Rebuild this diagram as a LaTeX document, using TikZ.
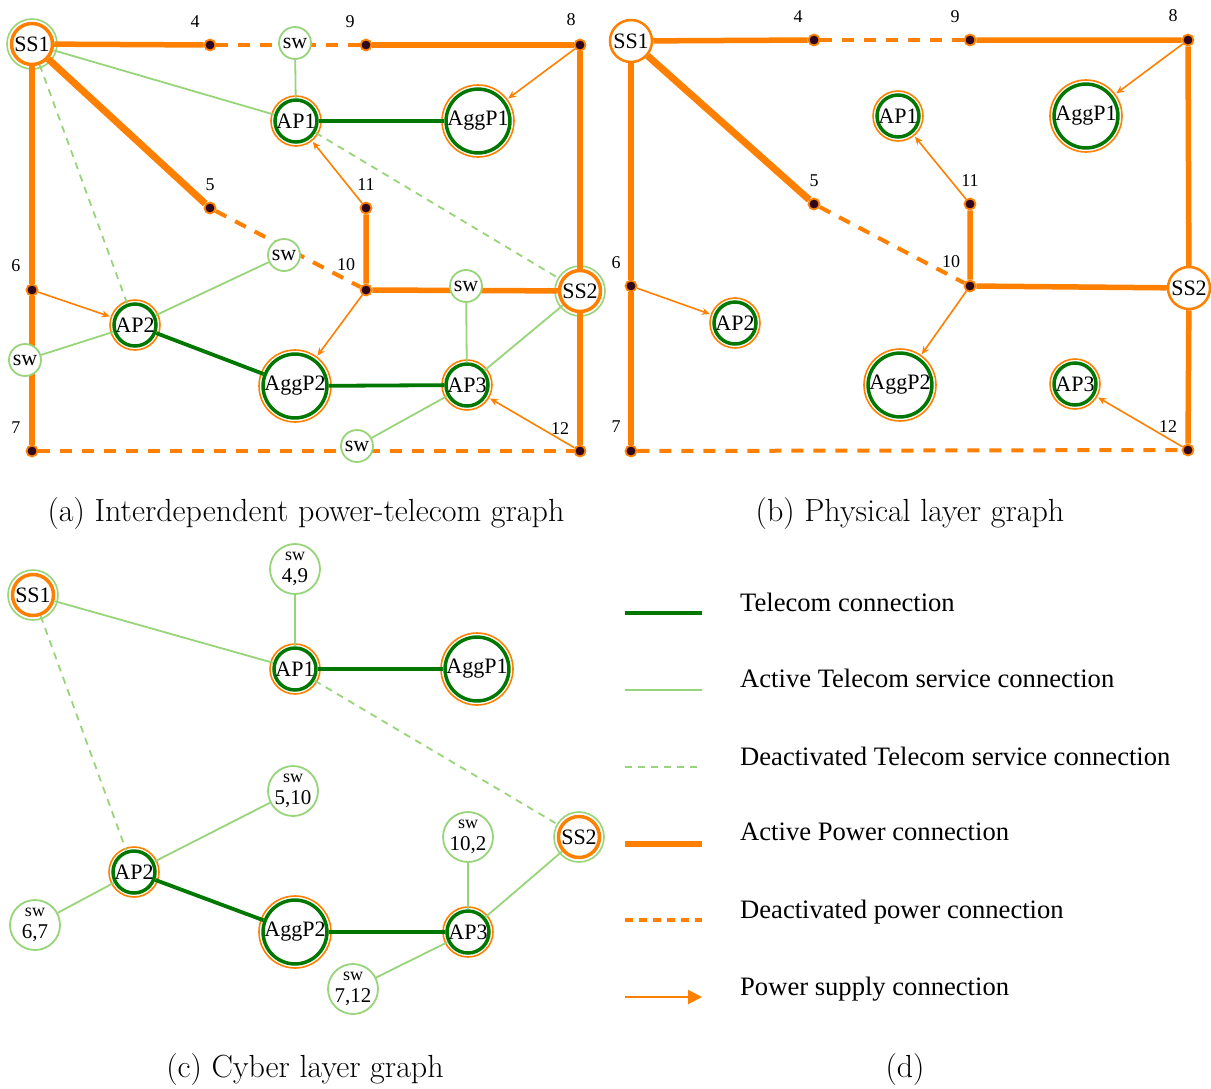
\documentclass[tikz,border=0pt]{standalone}
\usepackage{fontspec}
\newfontfamily\tnr{Liberation Serif}
\usetikzlibrary{arrows.meta}

\definecolor{pwr}{RGB}{255,128,0}
\definecolor{tel}{RGB}{0,120,0}
\definecolor{srv}{RGB}{152,212,122}
\definecolor{busdot}{RGB}{45,8,30}

\newcommand{\swtop}{{\fontsize{18}{18}\selectfont sw}}

\tikzset{
  every node/.style={font=\tnr\fontsize{22}{23}\selectfont},
  bus/.style={circle,draw=pwr,line width=1.8pt,fill=busdot,minimum size=11pt,inner sep=0pt},
  busnum/.style={font=\tnr\fontsize{18}{18}\selectfont,inner sep=0pt},
  outring/.style 2 args={append after command={\pgfextra{\let\ringnode\tikzlastnode}
      node[circle,draw=#1,line width=1.6pt,minimum size=#2,inner sep=0pt] at (\ringnode.center) {}}},
  apnode/.style={circle,draw=tel,line width=3.5pt,fill=white,inner sep=0pt,minimum size=42pt,outring={pwr}{50pt}},
  aggnode/.style={circle,draw=tel,line width=3.5pt,fill=white,inner sep=0pt,minimum size=62pt,outring={pwr}{72pt}},
  ssnode/.style={circle,draw=pwr,line width=3.5pt,fill=white,inner sep=0pt,minimum size=41pt,outring={srv}{50pt}},
  ssplain/.style={circle,draw=pwr,line width=2.5pt,fill=white,inner sep=0pt,minimum size=42pt},
  swnode/.style={circle,draw=srv,line width=1.8pt,fill=white,inner sep=0pt,minimum size=32pt},
  swbig/.style={swnode,minimum size=50pt,align=center,font=\tnr\fontsize{21}{22}\selectfont},
  power/.style={draw=pwr,line width=5.5pt},
  powerthick/.style={draw=pwr,line width=7pt},
  powerdash/.style={draw=pwr,line width=4pt,dash pattern=on 12pt off 10pt},
  supply/.style={draw=pwr,line width=1.6pt,-{Stealth[length=8pt,width=7pt]},shorten >=4pt},
  telecom/.style={draw=tel,line width=3.8pt},
  service/.style={draw=srv,line width=1.8pt},
  servdash/.style={service,dash pattern=on 7pt off 6pt},
  capt/.style={font=\fontsize{32}{36}\selectfont,anchor=base,inner sep=0pt},
  legtxt/.style={font=\tnr\fontsize{26.6}{30}\selectfont,anchor=base west,inner sep=0pt},
}

\begin{document}
\begin{tikzpicture}[x=1pt,y=-1pt]
\useasboundingbox (0,0) rectangle (1211,1088);

% (a) interdependent graph
\node[ssnode] (ss1) at (32,44) {SS1};
\node[ssnode] (ss2) at (580,291) {SS2};
\node[bus] (a4) at (210,45) {};
\node[bus] (a9) at (366,45) {};
\node[bus] (a8) at (580,45) {};
\node[bus] (a5) at (210,208) {};
\node[bus] (a11) at (366,208) {};
\node[bus] (a6) at (32,290) {};
\node[bus] (a10) at (366,290) {};
\node[bus] (a7) at (32,451) {};
\node[bus] (a12) at (580,451) {};
\node[apnode] (ap1) at (296,121) {AP1};
\node[aggnode] (agg1) at (478,121) {AggP1};
\node[apnode] (ap2) at (135,325) {AP2};
\node[aggnode] (agg2) at (295,386) {AggP2};
\node[apnode] (ap3) at (467,385) {AP3};

\node[busnum] (la4) at (195,22) {4};
\node[busnum] (la9) at (350,22) {9};
\node[busnum] (la8) at (571,20) {8};
\node[busnum] (la5) at (210,185) {5};
\node[busnum] (la11) at (366,185) {11};
\node[busnum] (la6) at (16,266) {6};
\node[busnum] (la10) at (346,265) {10};
\node[busnum] (la7) at (16,428) {7};
\node[busnum] (la12) at (560,429) {12};

\draw[power] (ss1) -- (a4);
\draw[powerdash] (a4) -- (a9);
\draw[power] (a9) -- (a8) -- (ss2) -- (a12);
\draw[power] (ss1) -- (a6) -- (a7);
\draw[powerdash] (a7) -- (a12);
\draw[powerthick] (ss1) -- (a5);
\draw[powerdash] (a5) -- (a10);
\draw[power] (a11) -- (a10) -- (ss2);

\draw[supply] (a8) -- (agg1);
\draw[supply] (a11) -- (ap1);
\draw[supply] (a6) -- (ap2);
\draw[supply] (a10) -- (agg2);
\draw[supply] (a12) -- (ap3);

\node[swnode] (sw1) at (295,43) {sw};
\node[swnode] (sw2) at (284,255) {sw};
\node[swnode] (sw3) at (466,286) {sw};
\node[swnode] (sw4) at (25,360) {sw};
\node[swnode] (sw5) at (357,446) {sw};

\draw[telecom] (ap1) -- (agg1);
\draw[telecom] (ap2) -- (agg2) -- (ap3);

\draw[service] (ss1) -- (ap1);
\draw[service] (sw1) -- (ap1);
\draw[service] (ap2) -- (sw2);
\draw[service] (ap2) -- (sw4);
\draw[service] (sw3) -- (ap3);
\draw[service] (ap3) -- (ss2);
\draw[service] (ap3) -- (sw5);
\draw[servdash] (ss1) -- (ap2);
\draw[servdash] (ap1) -- (ss2);

\node[capt] (capa) at (306,521) {(a) Interdependent power-telecom graph};

% (b) physical layer
\node[ssplain] (ss1b) at (631,41) {SS1};
\node[ssplain] (ss2b) at (1189,288) {SS2};
\node[bus] (b4) at (814,40) {};
\node[bus] (b9) at (970,40) {};
\node[bus] (b8) at (1188,40) {};
\node[bus] (b5) at (814,204) {};
\node[bus] (b11) at (970,204) {};
\node[bus] (b6) at (631,286) {};
\node[bus] (b10) at (970,286) {};
\node[bus] (b7) at (631,451) {};
\node[bus] (b12) at (1188,450) {};
\node[apnode] (ap1b) at (898,116) {AP1};
\node[aggnode] (agg1b) at (1086,116) {AggP1};
\node[apnode] (ap2b) at (735,323) {AP2};
\node[aggnode] (agg2b) at (900,385) {AggP2};
\node[apnode] (ap3b) at (1075,384) {AP3};

\node[busnum] (lb4) at (798,17) {4};
\node[busnum] (lb9) at (955,17) {9};
\node[busnum] (lb8) at (1173,16) {8};
\node[busnum] (lb5) at (814,181) {5};
\node[busnum] (lb11) at (970,181) {11};
\node[busnum] (lb6) at (616,263) {6};
\node[busnum] (lb10) at (951,262) {10};
\node[busnum] (lb7) at (616,427) {7};
\node[busnum] (lb12) at (1168,427) {12};

\draw[power] (ss1b) -- (b4);
\draw[powerdash] (b4) -- (b9);
\draw[power] (b9) -- (b8) -- (ss2b) -- (b12);
\draw[power] (ss1b) -- (b6) -- (b7);
\draw[powerdash] (b7) -- (b12);
\draw[powerthick] (ss1b) -- (b5);
\draw[powerdash] (b5) -- (b10);
\draw[power] (b11) -- (b10) -- (ss2b);

\draw[supply] (b8) -- (agg1b);
\draw[supply] (b11) -- (ap1b);
\draw[supply] (b6) -- (ap2b);
\draw[supply] (b10) -- (agg2b);
\draw[supply] (b12) -- (ap3b);

\node[capt] (capb) at (910,521) {(b) Physical layer graph};

% (c) cyber layer
\node[ssnode] (ss1c) at (33,595) {SS1};
\node[ssnode] (ss2c) at (579,837) {SS2};
\node[apnode] (ap1c) at (295,669) {AP1};
\node[aggnode] (agg1c) at (477,669) {AggP1};
\node[apnode] (ap2c) at (134,872) {AP2};
\node[aggnode] (agg2c) at (295,932) {AggP2};
\node[apnode] (ap3c) at (468,932) {AP3};
\node[swbig] (sw49) at (295,569) {\swtop\\4,9};
\node[swbig] (sw510) at (293,791) {\swtop\\5,10};
\node[swbig] (sw102) at (468,837) {\swtop\\10,2};
\node[swbig] (sw67) at (35,925) {\swtop\\6,7};
\node[swbig] (sw712) at (353,989) {\swtop\\7,12};

\draw[telecom] (ap1c) -- (agg1c);
\draw[telecom] (ap2c) -- (agg2c) -- (ap3c);
\draw[service] (ss1c) -- (ap1c);
\draw[service] (sw49) -- (ap1c);
\draw[service] (ap2c) -- (sw510);
\draw[service] (ap2c) -- (sw67);
\draw[service] (sw102) -- (ap3c);
\draw[service] (ap3c) -- (ss2c);
\draw[service] (ap3c) -- (sw712);
\draw[servdash] (ss1c) -- (ap2c);
\draw[servdash] (ap1c) -- (ss2c);

\node[capt] (capc) at (305,1077) {(c) Cyber layer graph};

% (d) legend
\coordinate (k1) at (625,613); \coordinate (k1e) at (702,613);
\coordinate (k2) at (625,690); \coordinate (k2e) at (702,690);
\coordinate (k3) at (625,767); \coordinate (k3e) at (702,767);
\coordinate (k4) at (625,844); \coordinate (k4e) at (702,844);
\coordinate (k5) at (625,920); \coordinate (k5e) at (702,920);
\coordinate (k6) at (625,997); \coordinate (k6e) at (702,997);
\draw[telecom] (k1) -- (k1e);
\draw[service,line width=2.5pt] (k2) -- (k2e);
\draw[servdash,line width=2.5pt] (k3) -- (k3e);
\draw[power,line width=6pt] (k4) -- (k4e);
\draw[powerdash,line width=3.5pt,dash pattern=on 8pt off 6pt] (k5) -- (k5e);
\draw[draw=pwr,line width=2pt,-{Triangle[length=14pt,width=14pt]}] (k6) -- (k6e);
\node[legtxt] (t1) at (740,611) {Telecom connection};
\node[legtxt] (t2) at (740,687) {Active Telecom service connection};
\node[legtxt] (t3) at (740,765) {Deactivated Telecom service connection};
\node[legtxt] (t4) at (740,840) {Active Power connection};
\node[legtxt] (t5) at (740,918) {Deactivated power connection};
\node[legtxt] (t6) at (740,995) {Power supply connection};

\node[capt] (capd) at (905,1077) {(d)};
\end{tikzpicture}
\end{document}
